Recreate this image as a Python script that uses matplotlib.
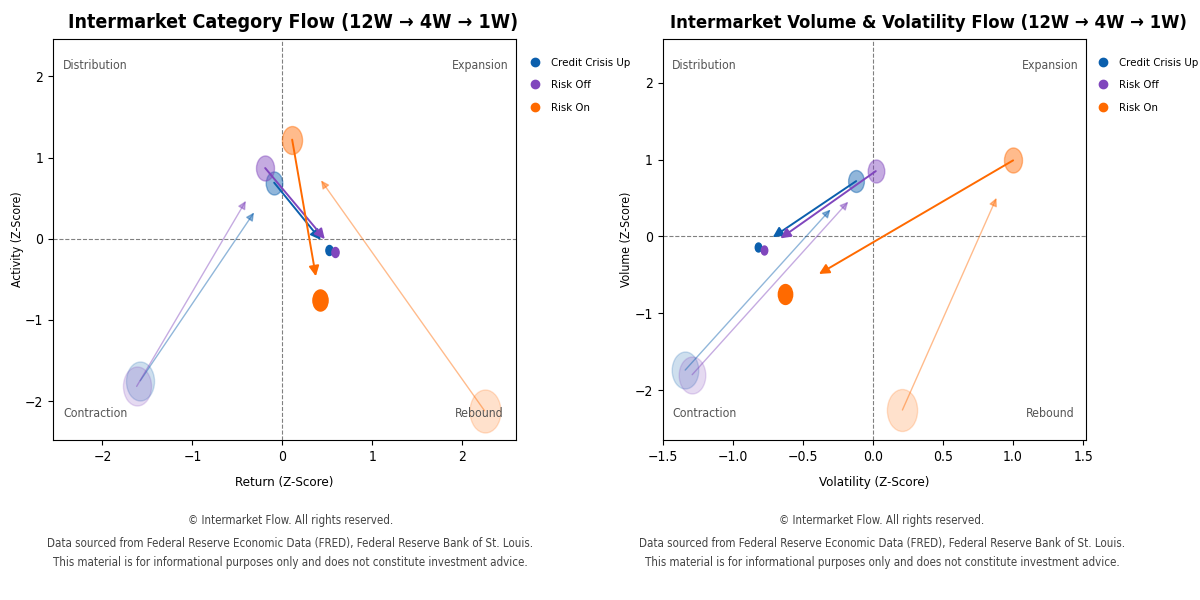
import matplotlib
matplotlib.use('Agg')
import matplotlib.pyplot as plt
from matplotlib.markers import MarkerStyle
from matplotlib.transforms import Affine2D
from matplotlib.lines import Line2D

plt.rcParams['font.family'] = ['DejaVu Sans']
plt.rcParams['font.stretch'] = 'condensed'

# categories and colours
categories = ['Credit Crisis Up', 'Risk Off', 'Risk On']
colors = ['#0b5fad', '#8046bd', '#ff6a00']

# left chart: return vs activity (12W, 4W, 1W)
ret_12w = [-1.58, -1.62, 2.25]
act_12w = [-1.75, -1.82, -2.12]
ret_4w = [-0.09, -0.19, 0.11]
act_4w = [0.69, 0.87, 1.22]
ret_1w = [0.52, 0.59, 0.42]
act_1w = [-0.14, -0.16, -0.76]
size_left_12w = [790, 790, 960]
size_left_4w = [275, 325, 405]
size_left_1w = [52, 52, 230]

# right chart: volatility vs volume (12W, 4W, 1W)
vola_12w = [-1.34, -1.29, 0.21]
volu_12w = [-1.74, -1.80, -2.26]
vola_4w = [-0.12, 0.02, 1.00]
volu_4w = [0.72, 0.85, 0.99]
vola_1w = [-0.82, -0.78, -0.63]
volu_1w = [-0.14, -0.18, -0.75]
size_right_12w = [710, 710, 915]
size_right_4w = [250, 275, 325]
size_right_1w = [42, 42, 205]

quadrants = ['Distribution', 'Expansion', 'Contraction', 'Rebound']
footer = ['\u00a9 Intermarket Flow. All rights reserved.',
          'Data sourced from Federal Reserve Economic Data (FRED), Federal Reserve Bank of St. Louis.',
          'This material is for informational purposes only and does not constitute investment advice.']

oval = MarkerStyle('o', transform=Affine2D().scale(0.72, 1.0))


def arrow(ax, x0, y0, x1, y1, color, alpha, lw, ms):
    # arrow covers 85% of the way to the next point
    ex = x0 + 0.85 * (x1 - x0)
    ey = y0 + 0.85 * (y1 - y0)
    ax.annotate('', xy=(ex, ey), xytext=(x0, y0),
                arrowprops=dict(arrowstyle='-|>', color=color, alpha=alpha, lw=lw,
                                mutation_scale=ms, shrinkA=0, shrinkB=0))


def flow_panel(ax, xs, ys, sizes, title, title_size, xlabel, ylabel, xlim, ylim, title_x, rb_x, leg_x):
    ax.axhline(0, color='gray', lw=0.8, ls='--', zorder=0)
    ax.axvline(0, color='gray', lw=0.8, ls='--', zorder=0)
    for i, cat in enumerate(categories):
        c = colors[i]
        ax.scatter(xs[0][i], ys[0][i], s=sizes[0][i], marker=oval, color=c, alpha=0.2,
                   edgecolor=c, linewidth=1, zorder=2)
        ax.scatter(xs[1][i], ys[1][i], s=sizes[1][i], marker=oval, color=c, alpha=0.45,
                   edgecolor=c, linewidth=1, zorder=3)
        ax.scatter(xs[2][i], ys[2][i], s=sizes[2][i], marker=oval, color=c, alpha=1.0,
                   edgecolor=c, linewidth=1, zorder=4)
        arrow(ax, xs[0][i], ys[0][i], xs[1][i], ys[1][i], c, 0.45, 1.0, 12)
        arrow(ax, xs[1][i], ys[1][i], xs[2][i], ys[2][i], c, 1.0, 1.4, 15)
    ax.set_xlim(*xlim)
    ax.set_ylim(*ylim)
    ax.set_title(title, fontsize=title_size, fontweight='bold', x=title_x, pad=8)
    ax.set_xlabel(xlabel, fontsize=9.5, labelpad=9)
    ax.set_ylabel(ylabel, fontsize=8.8, labelpad=1)
    ax.tick_params(labelsize=10)
    qc = '#555555'
    qs = 8.8
    ax.text(0.022, 0.933, quadrants[0], transform=ax.transAxes, ha='left', va='center', color=qc, fontsize=qs)
    ax.text(0.983, 0.933, quadrants[1], transform=ax.transAxes, ha='right', va='center', color=qc, fontsize=qs)
    ax.text(0.022, 0.065, quadrants[2], transform=ax.transAxes, ha='left', va='center', color=qc, fontsize=qs)
    ax.text(rb_x, 0.065, quadrants[3], transform=ax.transAxes, ha='right', va='center', color=qc, fontsize=qs)
    handles = [Line2D([], [], marker='o', ls='', color=colors[i], markersize=6, label=categories[i])
               for i in range(len(categories))]
    ax.legend(handles=handles, loc='upper left', bbox_to_anchor=(leg_x, 0.978), frameon=False,
              fontsize=8.2, handletextpad=0.4, labelspacing=1.08)


fig = plt.figure(figsize=(12, 6), dpi=100)
ax1 = fig.add_axes([0.0442, 0.2667, 0.3858, 0.6683])
ax2 = fig.add_axes([0.5523, 0.2667, 0.3527, 0.6683])

flow_panel(ax1, [ret_12w, ret_4w, ret_1w], [act_12w, act_4w, act_1w],
           [size_left_12w, size_left_4w, size_left_1w],
           'Intermarket Category Flow (12W \u2192 4W \u2192 1W)', 14,
           'Return (Z-Score)', 'Activity (Z-Score)', (-2.55, 2.6), (-2.48, 2.46), 0.519, 0.972, 0.995)
flow_panel(ax2, [vola_12w, vola_4w, vola_1w], [volu_12w, volu_4w, volu_1w],
           [size_right_12w, size_right_4w, size_right_1w],
           'Intermarket Volume & Volatility Flow (12W \u2192 4W \u2192 1W)', 13.2,
           'Volatility (Z-Score)', 'Volume (Z-Score)', (-1.5, 1.52), (-2.65, 2.57), 0.627, 0.974, 0.99)

for cx in (0.242, 0.735):
    for line, fy in zip(footer, (0.132, 0.095, 0.062)):
        fig.text(cx, fy, line, ha='center', va='center', fontsize=8.3, color='#444444')

fig.savefig('out.png', dpi=100)
